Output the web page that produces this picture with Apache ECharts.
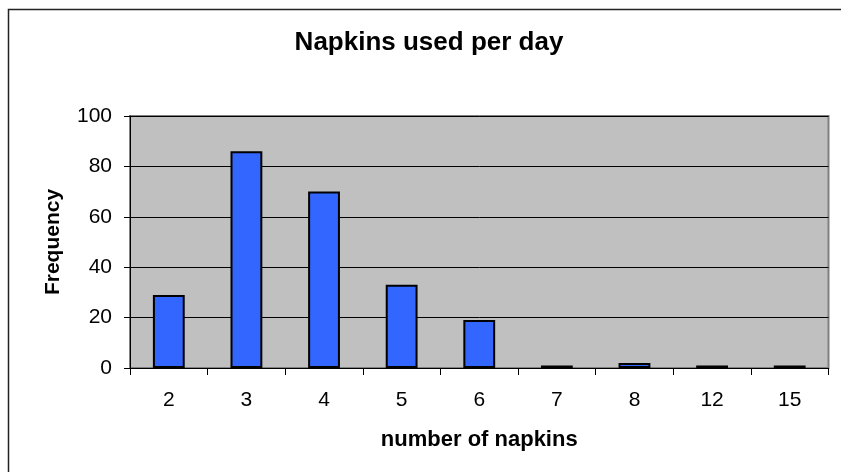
<!DOCTYPE html>
<html>
<head>
<meta charset="utf-8">
<script src="https://cdn.jsdelivr.net/npm/echarts@6/dist/echarts.min.js"></script>
<style>html,body{margin:0;padding:0;background:#fff}#c{width:841px;height:472px}</style>
</head>
<body>
<div id="c"></div>
<script>
const categories = ['2', '3', '4', '5', '6', '7', '8', '12', '15'];
const frequency = [29, 86, 70, 33, 19, 1, 2, 1, 1];
const yTicks = { min: 0, max: 100, interval: 20 };

const FONT = 'Liberation Sans, Arial, sans-serif';
const chart = echarts.init(document.getElementById('c'), null, { renderer: 'canvas' });
chart.setOption({
  animation: false,
  backgroundColor: '#ffffff',
  title: {
    text: 'Napkins used per day',
    left: 424, top: 25, textAlign: 'center',
    textStyle: { fontFamily: FONT, fontSize: 26, fontWeight: 'bold', color: '#000' }
  },
  graphic: [{
    type: 'rect', silent: true, z: -1,
    shape: { x: 8.5, y: 9.5, width: 900, height: 500 },
    style: { fill: 'none', stroke: '#222', lineWidth: 1.5 }
  }],
  grid: {
    left: 130, right: 12.5, top: 116, bottom: 104,
    show: true, backgroundColor: '#c0c0c0', borderColor: '#808080', borderWidth: 2,
    containLabel: false
  },
  xAxis: {
    type: 'category', data: categories,
    name: 'number of napkins', nameLocation: 'middle', nameGap: 61,
    nameTextStyle: { fontFamily: FONT, fontSize: 22, fontWeight: 'bold', color: '#000' },
    axisLine: { lineStyle: { color: '#000', width: 1 } },
    axisTick: { show: true, length: 7, lineStyle: { color: '#000' } },
    axisLabel: { margin: 22, fontFamily: FONT, fontSize: 21, color: '#000' },
    splitLine: { show: false }
  },
  yAxis: {
    type: 'value', min: yTicks.min, max: yTicks.max, interval: yTicks.interval,
    name: 'Frequency', nameLocation: 'middle', nameGap: 66,
    nameTextStyle: { fontFamily: FONT, fontSize: 21, fontWeight: 'bold', color: '#000' },
    axisLine: { show: true, lineStyle: { color: '#000', width: 1 } },
    axisTick: { show: true, length: 6, lineStyle: { color: '#000' } },
    axisLabel: { margin: 18, fontFamily: FONT, fontSize: 21, color: '#000' },
    splitLine: { show: true, lineStyle: { color: '#000', width: 1 } }
  },
  series: [{
    type: 'bar', data: frequency, barWidth: '41%',
    itemStyle: { color: '#3366ff', borderColor: '#000', borderWidth: 2 }
  }]
});
</script>
</body>
</html>
